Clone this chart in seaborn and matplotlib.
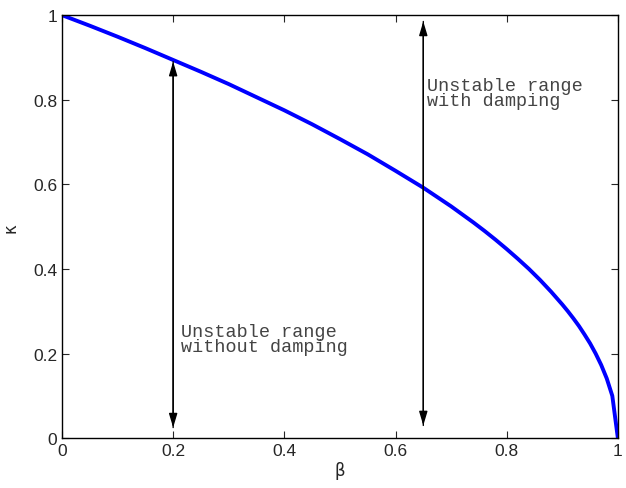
import matplotlib
matplotlib.use("Agg")
import matplotlib.pyplot as plt
import seaborn as sns
import pandas as pd

beta = [0.0, 0.05, 0.1, 0.15, 0.2, 0.25, 0.3, 0.35, 0.4, 0.45, 0.5, 0.55, 0.6, 0.65,
        0.7, 0.72, 0.74, 0.76, 0.78, 0.8, 0.82, 0.84, 0.86, 0.88, 0.9, 0.91, 0.92,
        0.93, 0.94, 0.95, 0.96, 0.97, 0.98, 0.99, 1.0]
kappa = [1.0, 0.975, 0.949, 0.922, 0.894, 0.866, 0.837, 0.806, 0.775, 0.742, 0.707, 0.671,
         0.632, 0.592, 0.548, 0.529, 0.510, 0.490, 0.469, 0.447, 0.424, 0.400, 0.374,
         0.346, 0.316, 0.300, 0.283, 0.265, 0.245, 0.224, 0.200, 0.173, 0.141, 0.100, 0.0]

arrow_x = [0.2, 0.65]
arrow_lo = [0.025, 0.03]
arrow_hi = [0.89, 0.985]
labels = ["Unstable range\nwithout damping", "Unstable range\nwith damping"]
label_pos = [(0.215, 0.234), (0.656, 0.816)]

xticks = [0, 0.2, 0.4, 0.6, 0.8, 1]
xticklabels = ["0", "0.2", "0.4", "0.6", "0.8", "1"]
yticks = [0, 0.2, 0.4, 0.6, 0.8, 1]
yticklabels = ["0", "0.2", "0.4", "0.6", "0.8", "1"]

sns.set_style("ticks")
plt.rcParams['font.family'] = ['Liberation Sans', 'DejaVu Sans']

fig = plt.figure(figsize=(6.26, 4.89), dpi=100)
ax = fig.add_axes([0.099, 0.102, 0.888, 0.865])

df = pd.DataFrame({"beta": beta, "kappa": kappa})
sns.lineplot(data=df, x="beta", y="kappa", ax=ax, color="#0000ff", linewidth=2.8)

style = "-|>,head_length=0.6,head_width=0.18"
for x, lo, hi in zip(arrow_x, arrow_lo, arrow_hi):
    ax.annotate("", xy=(x, hi), xytext=(x, lo),
                arrowprops=dict(arrowstyle=style, color="black", lw=1.0,
                                mutation_scale=14, shrinkA=0, shrinkB=0))
    ax.annotate("", xy=(x, lo), xytext=(x, hi),
                arrowprops=dict(arrowstyle=style, color="black", lw=1.0,
                                mutation_scale=14, shrinkA=0, shrinkB=0))

for (tx, ty), t in zip(label_pos, labels):
    ax.text(tx, ty, t, family="Liberation Mono", fontsize=13.3, color="#444444",
            ha="left", va="center", linespacing=0.86)

ax.set_xlim(0, 1)
ax.set_ylim(0, 1)
ax.set_xticks(xticks)
ax.set_xticklabels(xticklabels)
ax.set_yticks(yticks)
ax.set_yticklabels(yticklabels)
ax.tick_params(direction="in", top=True, right=True, labelsize=12.5, length=5, width=0.8)
ax.set_xlabel("β", fontsize=12, labelpad=2, family="DejaVu Sans")
ax.set_ylabel("κ", fontsize=12, labelpad=10, family="DejaVu Sans")
for s in ax.spines.values():
    s.set_visible(True)
    s.set_linewidth(1.0)
    s.set_color("black")

fig.savefig("out.png", dpi=100)
